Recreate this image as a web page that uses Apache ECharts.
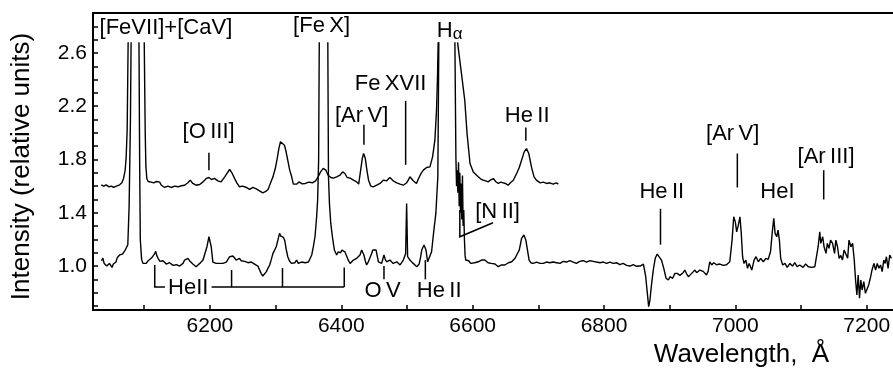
<!DOCTYPE html>
<html>
<head>
<meta charset="utf-8">
<script src="https://cdn.jsdelivr.net/npm/echarts@6/dist/echarts.min.js"></script>
<style>
    html, body { margin: 0; padding: 0; background: #fff; }
    #main { width: 893px; height: 371px; }
</style>
</head>
<body>
<div id="main"></div>
<script>
// 下方光谱（整段）
var lowerWave = [6035, 6037, 6039, 6041, 6043, 6045, 6047, 6049, 6051, 6053, 6055, 6057, 6059, 6061, 6063, 6065, 6067, 6069, 6071, 6073, 6075, 6077, 6079, 6080, 6086, 6092, 6093, 6094, 6096, 6098,
    6100, 6103, 6106, 6108, 6111, 6113, 6115.5, 6117.5, 6119, 6121, 6124, 6126, 6128.5, 6131, 6133.5, 6136, 6138.5, 6141, 6144, 6146.5, 6149, 6151.5, 6154, 6156.5, 6159, 6161.5, 6164, 6166.5, 6169, 6171.5, 6174, 6176.5, 6179, 6182, 6184.5, 6187, 6189.5, 6192, 6195.5, 6198.5,
    6202, 6204.5, 6207, 6209.5, 6212, 6215, 6217.5, 6220, 6222.5, 6225, 6227.5, 6230, 6232.5, 6235, 6237.5, 6240, 6242.5, 6245, 6247.5, 6250, 6253, 6255.5, 6258, 6260.5, 6263, 6265.5, 6268, 6270.5, 6273, 6275.5, 6278, 6280.5, 6283, 6286, 6288.5, 6291, 6293.5, 6296, 6298.5,
    6301, 6303.5, 6306, 6308, 6310, 6312, 6314, 6316, 6318.5, 6321, 6324, 6327, 6329.5, 6332, 6334.5, 6337, 6339.5, 6342, 6345, 6347.5, 6350, 6352.5, 6355, 6357.5, 6360, 6362.5, 6364, 6365.5, 6366.5, 6373, 6379.5, 6380.5, 6382, 6384, 6386.5, 6389.5, 6393, 6395.5, 6399,
    6401, 6403, 6405.5, 6409, 6411, 6413.5, 6416, 6418.5, 6421, 6423.5, 6426, 6428.5, 6431, 6434.5, 6436.5, 6438.5, 6441, 6443.5, 6446, 6448, 6450.5, 6453, 6456.5, 6459, 6461.5, 6465, 6467, 6469, 6471.5, 6474, 6477, 6479, 6482, 6484.5, 6487, 6489.5, 6492, 6494.5, 6498, 6499.5,
    6501, 6504.5, 6507, 6509.5, 6512, 6515, 6518.5, 6520.5, 6522.5, 6526, 6529, 6531.5, 6534, 6537.5, 6541, 6544, 6547, 6548.5, 6562, 6573, 6574.5, 6575.5, 6576.5, 6577.5, 6578.5, 6579.5, 6580.5, 6581.5, 6582.5, 6583.5, 6584.5, 6585.5, 6586.5, 6587.5, 6588.5, 6589.5, 6591, 6594, 6597,
    6600, 6603, 6606, 6608.5, 6611, 6613.5, 6616, 6618.5, 6621, 6623.5, 6626, 6628.5, 6631, 6634, 6636.5, 6639, 6641.5, 6644, 6646.5, 6649, 6652, 6654.5, 6657, 6659.5, 6662, 6664.5, 6667, 6671, 6674.5, 6678, 6681, 6683.5, 6686, 6688.5, 6692, 6695, 6697.5,
    6700, 6702.5, 6705, 6707.5, 6710, 6712.5, 6715, 6717.5, 6720, 6722.5, 6725, 6728, 6730.5, 6733, 6735.5, 6738, 6740.5, 6743, 6745.5, 6748, 6750.5, 6753, 6755.5, 6758, 6760.5, 6763, 6765.5, 6768.5, 6771, 6773.5, 6776, 6778.5, 6781, 6783.5, 6786, 6788.5, 6791, 6794, 6796.5, 6799,
    6801.5, 6804, 6806.5, 6809, 6811.5, 6814, 6816.5, 6819, 6821.5, 6824, 6826.5, 6829, 6831.5, 6834.5, 6837, 6839.5, 6842, 6844.5, 6847, 6849.5, 6852, 6855, 6857.5, 6860, 6863.5, 6866, 6868, 6870, 6872, 6875, 6878, 6881, 6884, 6887.5, 6891, 6894.5, 6898,
    6900.5, 6904.5, 6908, 6911.5, 6915.5, 6918, 6920.5, 6923, 6926, 6928.5, 6931, 6933.5, 6936, 6938.5, 6941, 6943.5, 6946, 6948.5, 6951, 6953.5, 6956, 6958.5, 6961, 6964, 6967, 6969, 6971.5, 6974, 6976.5, 6979, 6981.5, 6984, 6986.5, 6989, 6991.5, 6995, 6997.5,
    7000, 7002, 7004.5, 7007, 7009, 7011, 7013, 7016, 7018.5, 7021, 7025, 7028.5, 7031.5, 7035, 7038.5, 7042.5, 7046.5, 7050, 7053.5, 7056.5, 7058.5, 7060.5, 7063, 7065, 7067, 7069, 7072, 7075.5, 7079, 7083, 7087, 7090.5, 7094, 7098,
    7103, 7107, 7111, 7116, 7121, 7126, 7128.5, 7130, 7133, 7135, 7138, 7140, 7142.5, 7145, 7148, 7151, 7153, 7155.5, 7158, 7160.5, 7163, 7165.5, 7168, 7171, 7173, 7176, 7178.5, 7181, 7183, 7185, 7187, 7189, 7191, 7193, 7195.5, 7198,
    7200.5, 7203, 7206, 7208, 7211, 7213.5, 7216, 7218.5, 7221, 7223.5, 7226, 7228, 7230, 7232.5, 7235, 7237.5, 7240];
var lowerFlux = [1.04, 1.06, 1.02, 1.035, 1.00, 0.995, 1.02, 1.01, 0.99, 1.015, 1.005, 1.03, 1.065, 1.075, 1.085, 1.095, 1.09, 1.105, 1.12, 1.135, 1.16, 1.45, 2.1, 2.68, null, 2.68, 1.8, 1.2, 1.05, 1.02,
    1.03, 1.02, 1.04, 1.045, 1.06, 1.07, 1.09, 1.11, 1.08, 1.058, 1.035, 1.02, 1.04, 1.03, 1.015, 1.008, 1.025, 1.03, 1.005, 0.995, 1.01, 1.02, 1.0, 0.995, 1.02, 1.045, 1.03, 1.058, 1.04, 1.03, 1.015, 1.008, 0.995, 1.008, 1.02, 1.03, 1.045, 1.058, 1.145, 1.22,
    1.145, 1.03, 1.035, 1.02, 1.03, 1.02, 1.01, 1.02, 1.015, 1.03, 1.045, 1.07, 1.065, 1.075, 1.06, 1.045, 1.05, 1.058, 1.04, 1.03, 1.035, 1.03, 1.025, 1.02, 1.03, 1.03, 1.015, 1.008, 1.0, 0.995, 0.945, 0.925, 0.935, 0.958, 0.985, 1.008, 1.05, 1.095, 1.12,
    1.145, 1.195, 1.245, 1.225, 1.233, 1.215, 1.19, 1.13, 1.07, 1.04, 1.02, 1.032, 1.025, 1.045, 1.02, 1.015, 1.03, 1.032, 1.025, 1.02, 1.03, 1.045, 1.083, 1.145, 1.22, 1.37, 1.495, 1.795, 2.68, null, 2.68, 1.67, 1.47, 1.32, 1.22, 1.12, 1.083, 1.107, 1.10,
    1.12, 1.133, 1.107, 1.065, 1.04, 1.02, 1.035, 1.045, 1.05, 1.058, 1.07, 1.083, 1.12, 1.083, 1.04, 1.008, 1.03, 1.045, 1.09, 1.12, 1.107, 1.12, 1.032, 1.025, 1.02, 1.083, 1.05, 1.032, 1.04, 1.045, 1.03, 1.02, 1.03, 1.032, 1.02, 1.008, 1.02, 1.045, 1.095, 1.47,
    1.07, 1.045, 1.03, 1.02, 1.005, 0.995, 1.015, 1.06, 1.12, 1.158, 1.12, 1.032, 1.045, 1.107, 1.27, 1.395, 1.67, 2.68, null, 2.68, 1.82, 1.6, 1.72, 1.55, 1.78, 1.45, 1.7, 1.4, 1.62, 1.35, 1.68, 1.3, 1.42, 1.2, 1.08, 1.045, 1.03, 1.04,
    1.02, 1.035, 1.025, 1.04, 1.032, 1.02, 1.045, 1.035, 1.045, 1.03, 1.025, 1.01, 1.02, 1.012, 1.015, 1.005, 0.995, 1.0, 1.008, 1.015, 1.008, 1.02, 1.025, 1.03, 1.032, 1.045, 1.058, 1.083, 1.12, 1.208, 1.233, 1.195, 1.12, 1.045, 1.025, 1.02, 1.015,
    1.03, 1.032, 1.02, 1.03, 1.02, 1.025, 1.03, 1.015, 1.025, 1.032, 1.03, 1.02, 1.025, 1.012, 1.02, 1.025, 1.035, 1.045, 1.03, 1.032, 1.04, 1.025, 1.03, 1.032, 1.02, 1.02, 1.035, 1.032, 1.04, 1.045, 1.03, 1.032, 1.04, 1.05, 1.035, 1.04, 1.03, 1.032, 1.025, 1.02,
    1.03, 1.032, 1.02, 1.025, 1.03, 1.032, 1.02, 1.015, 1.025, 1.02, 1.01, 1.008, 1.02, 1.015, 1.005, 1.008, 1.0, 1.0, 1.01, 1.008, 0.998, 0.995, 1.0, 1.008, 1.015, 0.92, 0.795, 0.695, 0.745, 0.845, 0.97, 1.058, 1.09, 1.083, 1.045, 0.983, 0.908,
    0.895, 0.92, 0.908, 0.945, 0.945, 0.93, 0.935, 0.95, 0.97, 0.94, 0.92, 0.935, 0.945, 0.96, 0.97, 0.95, 0.958, 0.97, 0.983, 0.96, 0.97, 0.933, 0.96, 1.032, 1.008, 1.025, 1.02, 1.01, 1.0, 1.015, 1.008, 1.005, 0.99, 1.01, 1.008, 1.032, 1.195,
    1.37, 1.33, 1.257, 1.307, 1.37, 1.245, 1.07, 1.02, 1.045, 0.983, 1.02, 0.97, 1.045, 1.07, 1.032, 1.058, 1.032, 1.058, 1.05, 1.107, 1.27, 1.358, 1.245, 1.22, 1.27, 1.195, 1.058, 1.008, 1.02, 0.99, 1.02, 1.0, 1.025, 0.995,
    1.008, 0.99, 1.015, 0.995, 0.99, 0.995, 1.145, 1.257, 1.17, 1.22, 1.145, 1.095, 1.17, 1.133, 1.195, 1.17, 1.095, 1.195, 1.145, 1.058, 1.08, 1.045, 1.12, 1.107, 1.058, 1.195, 1.145, 1.17, 1.045, 0.895, 0.783, 0.933, 0.758, 0.895, 0.82, 0.883,
    0.795, 0.783, 0.858, 0.92, 0.97, 1.02, 0.97, 1.02, 0.983, 1.008, 0.958, 1.045, 1.02, 1.07, 0.983, 1.083, 1.058];

// 上方光谱（到 6730 Å）
var upperWave = [6034.5, 6036.5, 6038.5, 6040.5, 6042, 6044.5, 6046.5, 6048.5, 6050, 6052, 6053.5, 6055.5, 6057.5, 6060, 6062.5, 6066, 6068.5, 6071, 6072.5, 6074, 6075.5, 6088, 6100, 6101.5, 6102.5, 6104, 6106, 6108.5,
    6110.5, 6112.5, 6114.5, 6116, 6118.5, 6121, 6123.5, 6126, 6128.5, 6131, 6133.5, 6136, 6138.5, 6141, 6143.5, 6146.5, 6149, 6151.5, 6154, 6156.5, 6159, 6161.5, 6164, 6166.5, 6168, 6170, 6172, 6174, 6176.5, 6179, 6181.5, 6184.5, 6187, 6189.5, 6192, 6194.5, 6196.5, 6198.5,
    6200.5, 6202.5, 6205, 6207, 6209.5, 6212, 6214.5, 6217, 6219.5, 6222.5, 6226.5, 6230, 6234, 6237.5, 6241, 6245, 6247.5, 6250, 6252.5, 6255.5, 6258, 6260.5, 6263, 6265.5, 6268, 6270.5, 6273, 6275.5, 6278, 6280.5, 6283, 6285, 6288.5, 6292, 6296, 6299.5,
    6302.5, 6305, 6307.5, 6310.5, 6313.5, 6316, 6319, 6321.5, 6324.5, 6327, 6329.5, 6332, 6335.5, 6338, 6340.5, 6343, 6345.5, 6348, 6350.5, 6353, 6356, 6358.5, 6361, 6363.5, 6366, 6368.5, 6372.5, 6376.5, 6380, 6384, 6388, 6390.5, 6393, 6395.5, 6398,
    6402, 6405.5, 6409, 6413.5, 6416, 6418.5, 6421, 6423.5, 6426.5, 6429.5, 6432, 6434, 6436.5, 6439, 6441.5, 6445, 6448.5, 6451, 6454, 6456.5, 6459, 6461.5, 6464, 6467, 6469, 6471.5, 6474, 6476.5, 6479, 6482, 6484.5, 6487, 6489.5, 6492, 6494.5, 6497, 6499.5,
    6502, 6504.5, 6507, 6509.5, 6512, 6514.5, 6517, 6520, 6522, 6525, 6527.5, 6530, 6532.5, 6535, 6539, 6542.5, 6545, 6546.5, 6547.5, 6562, 6577, 6578, 6583, 6588, 6591.5, 6596,
    6601, 6604.5, 6608.5, 6612, 6616, 6620, 6623.5, 6627, 6631.5, 6635, 6639, 6643, 6646.5, 6650, 6654, 6657.5, 6662, 6667, 6671, 6674.5, 6678.5, 6682, 6685.5, 6689.5, 6693.5, 6697,
    6700, 6703, 6705, 6707.5, 6710, 6712.5, 6715, 6717.5, 6720, 6722.5, 6725, 6727.5, 6730.5];
var upperFlux = [1.61, 1.605, 1.60, 1.605, 1.61, 1.60, 1.595, 1.60, 1.60, 1.595, 1.59, 1.60, 1.60, 1.605, 1.61, 1.625, 1.658, 1.72, 1.82, 2.02, 2.68, null, 2.68, 2.0, 1.75, 1.655, 1.635, 1.625,
    1.63, 1.62, 1.625, 1.625, 1.635, 1.645, 1.63, 1.607, 1.6, 1.59, 1.595, 1.60, 1.595, 1.59, 1.595, 1.60, 1.595, 1.595, 1.605, 1.603, 1.61, 1.607, 1.615, 1.625, 1.64, 1.645, 1.635, 1.62, 1.61, 1.607, 1.615, 1.612, 1.625, 1.632, 1.645, 1.658, 1.66, 1.665,
    1.655, 1.65, 1.655, 1.658, 1.65, 1.64, 1.645, 1.632, 1.645, 1.67, 1.70, 1.725, 1.695, 1.658, 1.625, 1.595, 1.60, 1.60, 1.593, 1.59, 1.585, 1.575, 1.585, 1.59, 1.583, 1.58, 1.575, 1.565, 1.56, 1.55, 1.553, 1.56, 1.575, 1.62, 1.67, 1.732,
    1.808, 1.883, 1.933, 1.945, 1.907, 1.858, 1.782, 1.72, 1.67, 1.615, 1.62, 1.615, 1.632, 1.62, 1.617, 1.625, 1.62, 1.627, 1.63, 1.628, 1.625, 1.635, 1.64, 1.66, 1.682, 1.707, 1.733, 1.72, 1.682, 1.665, 1.66, 1.665, 1.67, 1.676, 1.682,
    1.707, 1.695, 1.665, 1.66, 1.655, 1.645, 1.64, 1.632, 1.615, 1.72, 1.808, 1.845, 1.81, 1.72, 1.645, 1.60, 1.595, 1.605, 1.607, 1.615, 1.62, 1.63, 1.645, 1.64, 1.64, 1.652, 1.665, 1.655, 1.64, 1.63, 1.625, 1.62, 1.615, 1.612, 1.607, 1.62, 1.625,
    1.645, 1.67, 1.655, 1.64, 1.63, 1.62, 1.65, 1.682, 1.70, 1.72, 1.735, 1.74, 1.735, 1.745, 1.82, 1.945, 2.17, 2.42, 2.68, null, 2.68, 2.67, 2.445, 2.245, 1.995, 1.77,
    1.707, 1.69, 1.67, 1.655, 1.645, 1.64, 1.632, 1.645, 1.657, 1.635, 1.62, 1.63, 1.625, 1.62, 1.607, 1.625, 1.645, 1.695, 1.74, 1.795, 1.857, 1.882, 1.845, 1.745, 1.67, 1.645,
    1.632, 1.625, 1.62, 1.63, 1.632, 1.62, 1.607, 1.625, 1.63, 1.615, 1.607, 1.625, 1.615];

// 刻度
var xTickValues = [6100, 6200, 6300, 6400, 6500, 6600, 6700, 6800, 6900, 7000, 7100, 7200];
var xLabelValues = [6200, 6400, 6600, 6800, 7000, 7200];
var yTickValues = [0.7, 0.8, 0.9, 1.0, 1.1, 1.2, 1.3, 1.4, 1.5, 1.6, 1.7, 1.8, 1.9, 2.0, 2.1, 2.2, 2.3, 2.4, 2.5, 2.6, 2.7, 2.8];
var yLabelValues = [1.0, 1.4, 1.8, 2.2, 2.6];

// 谱线标注：文字 + 位置（波长, 强度）
var lineNames = ['[FeVII]+[CaV]', '[Fe\u2009X]', 'Hα', 'Fe\u2009XVII', '[Ar\u2009V]', 'He\u2009II', '[O\u2009III]', 'He\u2009II', '[Ar\u2009V]', 'HeI', '[Ar\u2009III]', '[N\u2009II]', 'O\u2009V', 'He\u2009II', 'HeII'];
var lineNamePos = [[6133, 2.79], [6370, 2.80], [6545.5, 2.766], [6475, 2.37], [6431, 2.13], [6683, 2.13], [6198, 2.01], [6888, 1.56], [6996, 1.99], [7064, 1.555], [7138, 1.82], [6638, 1.41], [6463, 0.815], [6549, 0.815], [6167, 0.835]];
// 指示线
var pointerPaths = [
    [[6498, 2.24], [6498, 1.76]],
    [[6434.5, 2.06], [6434.5, 1.91]],
    [[6681, 2.04], [6681, 1.94]],
    [[6198.5, 1.85], [6198.5, 1.72]],
    [[6886, 1.43], [6886, 1.16]],
    [[7003, 1.845], [7003, 1.59]],
    [[7134.5, 1.72], [7134.5, 1.50]],
    [[6580.5, 1.42], [6580.5, 1.22], [6631, 1.325]],
    [[6465, 1.0], [6465, 0.90]],
    [[6528, 1.045], [6528, 0.90]],
    [[6116, 1.008], [6116, 0.842], [6131.5, 0.842]],
    [[6202.5, 0.842], [6404.5, 0.842]],
    [[6233, 0.97], [6233, 0.842]],
    [[6310.5, 0.985], [6310.5, 0.842]],
    [[6404.5, 0.99], [6404.5, 0.842]]
];

var FONT = '"Liberation Sans", Arial, sans-serif';

function pairs(xs, ys) {
    return xs.map(function (x, i) { return [x, ys[i]]; });
}

var myChart = echarts.init(document.getElementById('main'));
myChart.setOption({
    animation: false,
    backgroundColor: '#fff',
    grid: { left: 93, right: 0, top: 13, bottom: 61, outerBoundsMode: 'none' },
    xAxis: [{
        type: 'value',
        min: 6022,
        max: 7240,
        axisLine: { show: true, lineStyle: { color: '#000', width: 2 } },
        axisTick: { show: true, inside: true, length: 5, customValues: xTickValues, lineStyle: { color: '#000', width: 1.5 } },
        axisLabel: { customValues: xLabelValues, color: '#000', fontSize: 21, fontFamily: FONT, margin: 6, formatter: function (v) { return String(v); } },
        splitLine: { show: false },
        name: 'Wavelength,  Å',
        nameLocation: 'middle',
        nameGap: 30,
        nameTextStyle: { color: '#000', fontSize: 26, fontFamily: FONT, padding: [0, 0, 0, 497] }
    }, {
        type: 'value',
        position: 'top',
        min: 6022,
        max: 7240,
        axisLine: { show: true, lineStyle: { color: '#000', width: 2 } },
        axisTick: { show: false },
        axisLabel: { show: false },
        splitLine: { show: false }
    }],
    yAxis: {
        type: 'value',
        min: 0.67,
        max: 2.9,
        axisLine: { show: true, lineStyle: { color: '#000', width: 2 } },
        axisTick: { show: true, inside: true, length: 5, customValues: yTickValues, lineStyle: { color: '#000', width: 1.5 } },
        axisLabel: { customValues: yLabelValues, color: '#000', fontSize: 21, fontFamily: FONT, margin: 6, formatter: function (v) { return v.toFixed(1); } },
        splitLine: { show: false },
        name: 'Intensity (relative units)',
        nameLocation: 'middle',
        nameGap: 58,
        nameTextStyle: { color: '#000', fontSize: 26, fontFamily: FONT, padding: [0, 10, 0, 0] }
    },
    series: [
        {
            name: 'lower',
            type: 'line',
            data: pairs(lowerWave, lowerFlux),
            showSymbol: false,
            symbol: 'none',
            connectNulls: false,
            lineStyle: { color: '#000', width: 1.4 }
        },
        {
            name: 'upper',
            type: 'line',
            data: pairs(upperWave, upperFlux),
            showSymbol: false,
            symbol: 'none',
            connectNulls: false,
            lineStyle: { color: '#000', width: 1.4 }
        },
        {
            name: 'pointers',
            type: 'custom',
            data: pointerPaths.map(function (p) { return p[0]; }),
            renderItem: function (params, api) {
                var pts = pointerPaths[params.dataIndex].map(function (p) { return api.coord(p); });
                return {
                    type: 'polyline',
                    shape: { points: pts },
                    style: { stroke: '#000', lineWidth: 1.5, fill: 'none' }
                };
            },
            z: 5
        },
        {
            name: 'names',
            type: 'custom',
            data: lineNamePos,
            renderItem: function (params, api) {
                var p = api.coord(lineNamePos[params.dataIndex]);
                var t = lineNames[params.dataIndex];
                if (t === 'Hα') {
                    return {
                        type: 'group',
                        children: [{
                            type: 'text', x: p[0], y: p[1],
                            style: { text: 'H', font: '22px ' + FONT, fill: '#000', align: 'left', verticalAlign: 'middle' }
                        }, {
                            type: 'text', x: p[0] + 16, y: p[1] + 3,
                            style: { text: 'α', font: '17px ' + FONT, fill: '#000', align: 'left', verticalAlign: 'middle' }
                        }]
                    };
                }
                return {
                    type: 'text', x: p[0], y: p[1],
                    style: { text: t, font: '22px ' + FONT, fill: '#000', align: 'center', verticalAlign: 'middle' }
                };
            },
            z: 6
        }
    ]
});
</script>
</body>
</html>
